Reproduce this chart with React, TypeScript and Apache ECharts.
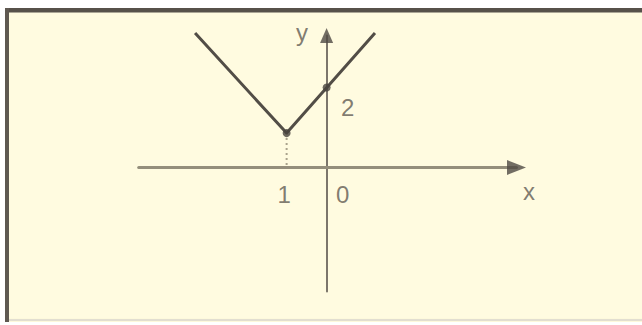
import React, { useEffect, useRef } from "react";
import * as echarts from "echarts";

// Graph of the V-shaped function
const graphX = [-3.29, -1, 1.21];
const graphY = [3.36, 0.86, 3.36];
// Marked points on the graph
const markedX = [-1, 0];
const markedY = [0.86, 2];
// Tick labels
const xTickValues = [-1, 0];
const xTickLabels = ["1", "0"];
const yTickValues = [2];
const yTickLabels = ["2"];
// Axis ranges and names
const xRange = [-4.7, 4.75];
const yRange = [-3.1, 3.3];
const axisNames = ["x", "y"];

const TEXT_COLOR = "#5f5a52";
const FONT = "'Liberation Sans', Arial, sans-serif";

export default function App() {
  const ref = useRef<HTMLDivElement>(null);

  useEffect(() => {
    if (!ref.current) return;
    const chart = echarts.init(ref.current, undefined, { renderer: "svg" });

    const labelData: any[] = [];
    xTickValues.forEach((v, i) =>
      labelData.push({
        value: [v, 0],
        label: { formatter: xTickLabels[i], offset: i === 0 ? [-2.5, 26.5] : [16, 26.5] },
      })
    );
    yTickValues.forEach((v, i) =>
      labelData.push({
        value: [0, v],
        label: { formatter: yTickLabels[i], offset: [21, 20] },
      })
    );
    labelData.push({
      value: [xRange[1], 0],
      label: { formatter: axisNames[0], offset: [12.5, 23.5] },
    });
    labelData.push({
      value: [0, yRange[1]],
      label: { formatter: axisNames[1], offset: [-24.5, -3] },
    });

    chart.setOption({
      animation: false,
      backgroundColor: "#ffffff",
      graphic: [
        { type: "rect", z: -10, shape: { x: 5, y: 8, width: 637, height: 314 }, style: { fill: "#fdf9dc" } },
        { type: "rect", z: -9, shape: { x: 9, y: 12, width: 633, height: 306 }, style: { fill: "#fffbe0" } },
        { type: "rect", z: -8, shape: { x: 5, y: 8, width: 637, height: 4.5 }, style: { fill: "#57514a" } },
        { type: "rect", z: -8, shape: { x: 5, y: 8, width: 4, height: 314 }, style: { fill: "#5f5951" } },
        { type: "rect", z: -8, shape: { x: 9, y: 319, width: 633, height: 2 }, style: { fill: "#e2ded0" } },
      ],
      grid: { left: 138.7, top: 35.5, width: 377.8, height: 256, containLabel: false },
      xAxis: {
        type: "value",
        min: xRange[0],
        max: xRange[1],
        axisLine: { onZero: true, lineStyle: { color: "#948e7b", width: 3 } },
        axisTick: { show: false },
        axisLabel: { show: false },
        splitLine: { show: false },
      },
      yAxis: {
        type: "value",
        min: yRange[0],
        max: yRange[1],
        axisLine: { onZero: true, lineStyle: { color: "#7c766b", width: 2 } },
        axisTick: { show: false },
        axisLabel: { show: false },
        splitLine: { show: false },
      },
      series: [
        {
          type: "line",
          data: [
            [markedX[0], markedY[0]],
            [markedX[0], 0],
          ],
          showSymbol: false,
          lineStyle: { color: "#aaa38c", width: 2, type: [2, 3] },
          z: 3,
        },
        {
          type: "line",
          data: graphX.map((x, i) => [x, graphY[i]]),
          showSymbol: false,
          clip: false,
          lineStyle: { color: "#524d46", width: 3 },
          z: 4,
        },
        {
          type: "scatter",
          data: markedX.map((x, i) => [x, markedY[i]]),
          symbolSize: 8,
          itemStyle: { color: "#48433d" },
          z: 5,
        },
        {
          type: "scatter",
          clip: false,
          data: [
            { value: [xRange[1], 0], symbolRotate: -90, symbolSize: [15, 19] },
            { value: [0, yRange[1]], symbolRotate: 0, symbolSize: [13, 15] },
          ],
          symbol: "triangle",
          itemStyle: { color: "#4f4a44" },
          z: 6,
        },
        {
          type: "scatter",
          clip: false,
          data: labelData,
          symbolSize: 0,
          label: {
            show: true,
            position: "inside",
            color: TEXT_COLOR,
            fontSize: 24,
            fontFamily: FONT,
          },
          z: 7,
        },
      ],
    });

    return () => chart.dispose();
  }, []);

  return (
    <div
      ref={ref}
      style={{ position: "fixed", left: 0, top: 0, width: 642, height: 325 }}
    />
  );
}
